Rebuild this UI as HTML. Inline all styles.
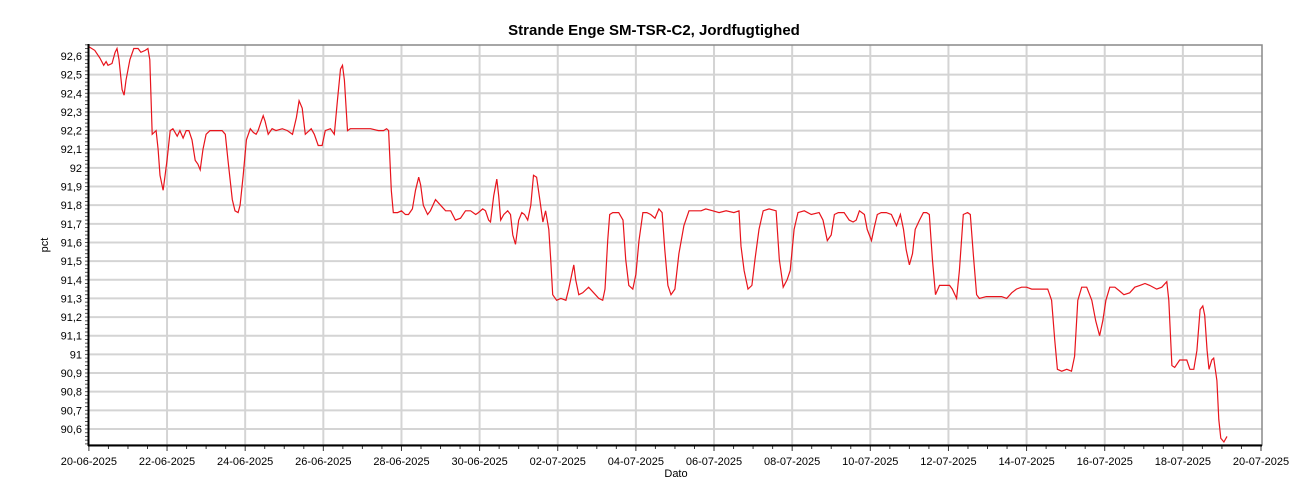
<!DOCTYPE html>
<html><head><meta charset="utf-8"><style>
html,body{margin:0;padding:0;background:#fff;}
svg{display:block;font-family:"Liberation Sans",Arial,sans-serif;}
</style></head><body>
<svg id="chart" width="1300" height="500" xmlns="http://www.w3.org/2000/svg">
<text x="654" y="35" text-anchor="middle" font-size="15" font-weight="bold" fill="#000">Strande Enge SM-TSR-C2, Jordfugtighed</text>
<g id="grid"></g>
<g id="yaxis"></g>
<g id="xaxis"></g>
<path id="series" fill="none" stroke="#e8141c" stroke-width="1.2"></path>
<rect x="88.5" y="45" width="1173.5" height="400" fill="none" stroke="#888" stroke-width="1.5"></rect>
<line x1="88.5" y1="44" x2="88.5" y2="446" stroke="#000" stroke-width="2"></line>
<line x1="88" y1="445.5" x2="1262" y2="445.5" stroke="#000" stroke-width="2"></line>
<text x="48" y="245" font-size="11" text-anchor="middle" transform="rotate(-90 48 245)">pct</text>
<text x="676" y="477" font-size="11" text-anchor="middle">Dato</text>
</svg>
<script>
const yTicks = [90.6,90.7,90.8,90.9,91.0,91.1,91.2,91.3,91.4,91.5,91.6,91.7,91.8,91.9,92.0,92.1,92.2,92.3,92.4,92.5,92.6];
const xTickLabels = ["20-06-2025","22-06-2025","24-06-2025","26-06-2025","28-06-2025","30-06-2025","02-07-2025","04-07-2025","06-07-2025","08-07-2025","10-07-2025","12-07-2025","14-07-2025","16-07-2025","18-07-2025","20-07-2025"];
const days = [0,0.15,0.28,0.38,0.44,0.49,0.59,0.67,0.72,0.77,0.85,0.90,0.95,1.05,1.15,1.26,1.33,1.44,1.51,1.56,1.62,1.67,1.72,1.77,1.82,1.90,1.95,2.00,2.08,2.15,2.26,2.33,2.41,2.49,2.56,2.64,2.72,2.79,2.85,2.92,3.00,3.10,3.18,3.31,3.41,3.49,3.56,3.67,3.74,3.82,3.87,3.95,4.03,4.13,4.21,4.28,4.33,4.41,4.46,4.51,4.59,4.69,4.79,4.95,5.08,5.21,5.31,5.38,5.46,5.54,5.64,5.69,5.77,5.87,5.97,6.05,6.18,6.28,6.36,6.44,6.49,6.54,6.62,6.69,6.85,6.95,7.08,7.21,7.41,7.54,7.62,7.67,7.74,7.79,7.90,8.00,8.10,8.18,8.28,8.36,8.44,8.49,8.56,8.67,8.74,8.87,9.00,9.13,9.26,9.38,9.51,9.64,9.77,9.90,9.97,10.08,10.15,10.23,10.28,10.36,10.44,10.49,10.54,10.62,10.72,10.79,10.85,10.92,11.00,11.08,11.15,11.23,11.31,11.38,11.46,11.54,11.62,11.69,11.77,11.82,11.87,11.97,12.08,12.21,12.28,12.36,12.41,12.46,12.54,12.64,12.79,12.92,13.05,13.15,13.21,13.28,13.33,13.41,13.56,13.67,13.74,13.82,13.92,14.00,14.08,14.18,14.28,14.38,14.49,14.59,14.67,14.74,14.82,14.90,15.00,15.10,15.23,15.36,15.46,15.67,15.79,15.97,16.13,16.31,16.51,16.64,16.69,16.77,16.87,16.97,17.05,17.15,17.26,17.41,17.59,17.67,17.77,17.87,17.95,18.05,18.15,18.31,18.49,18.69,18.79,18.90,19.00,19.08,19.18,19.33,19.46,19.56,19.64,19.72,19.85,19.92,20.03,20.10,20.18,20.28,20.41,20.54,20.67,20.77,20.85,20.92,21.00,21.08,21.15,21.26,21.36,21.44,21.51,21.59,21.67,21.77,21.85,22.03,22.10,22.21,22.28,22.38,22.49,22.56,22.64,22.72,22.79,22.97,23.10,23.23,23.36,23.49,23.62,23.74,23.87,24.00,24.13,24.26,24.38,24.54,24.64,24.72,24.79,24.90,25.03,25.15,25.23,25.31,25.41,25.54,25.67,25.77,25.87,25.95,26.03,26.13,26.26,26.38,26.49,26.64,26.77,26.90,27.03,27.15,27.33,27.46,27.59,27.64,27.72,27.79,27.92,28.10,28.18,28.28,28.36,28.44,28.51,28.56,28.62,28.67,28.74,28.79,28.87,28.92,28.97,29.05,29.13];
const values = [92.65,92.63,92.59,92.55,92.57,92.55,92.56,92.62,92.64,92.58,92.42,92.39,92.47,92.58,92.64,92.64,92.62,92.63,92.64,92.58,92.18,92.19,92.20,92.10,91.96,91.88,91.96,92.04,92.20,92.21,92.17,92.20,92.16,92.20,92.20,92.15,92.04,92.02,91.99,92.10,92.18,92.20,92.20,92.20,92.20,92.18,92.04,91.83,91.77,91.76,91.80,91.96,92.15,92.21,92.19,92.18,92.20,92.25,92.28,92.25,92.18,92.21,92.20,92.21,92.20,92.18,92.27,92.36,92.32,92.18,92.20,92.21,92.18,92.12,92.12,92.20,92.21,92.18,92.36,92.53,92.55,92.47,92.20,92.21,92.21,92.21,92.21,92.21,92.20,92.20,92.21,92.20,91.88,91.76,91.76,91.77,91.75,91.75,91.78,91.88,91.95,91.91,91.80,91.75,91.77,91.83,91.80,91.77,91.77,91.72,91.73,91.77,91.77,91.75,91.76,91.78,91.77,91.72,91.71,91.85,91.94,91.85,91.72,91.75,91.77,91.75,91.64,91.59,91.72,91.76,91.75,91.72,91.80,91.96,91.95,91.83,91.71,91.77,91.67,91.51,91.32,91.29,91.30,91.29,91.35,91.43,91.48,91.40,91.32,91.33,91.36,91.33,91.30,91.29,91.35,91.61,91.75,91.76,91.76,91.72,91.51,91.37,91.35,91.43,91.61,91.76,91.76,91.75,91.73,91.78,91.76,91.56,91.37,91.32,91.35,91.54,91.69,91.77,91.77,91.77,91.78,91.77,91.76,91.77,91.76,91.77,91.58,91.45,91.35,91.37,91.51,91.67,91.77,91.78,91.77,91.51,91.36,91.40,91.45,91.67,91.76,91.77,91.75,91.76,91.72,91.61,91.64,91.75,91.76,91.76,91.72,91.71,91.72,91.77,91.75,91.67,91.61,91.68,91.75,91.76,91.76,91.75,91.69,91.75,91.67,91.56,91.48,91.54,91.67,91.72,91.76,91.76,91.75,91.51,91.32,91.37,91.37,91.37,91.35,91.30,91.45,91.75,91.76,91.75,91.53,91.32,91.30,91.31,91.31,91.31,91.31,91.30,91.33,91.35,91.36,91.36,91.35,91.35,91.35,91.35,91.29,91.08,90.92,90.91,90.92,90.91,90.99,91.29,91.36,91.36,91.29,91.18,91.10,91.18,91.29,91.36,91.36,91.34,91.32,91.33,91.36,91.37,91.38,91.37,91.35,91.36,91.39,91.29,90.94,90.93,90.97,90.97,90.92,90.92,91.02,91.24,91.26,91.21,91.02,90.92,90.97,90.98,90.86,90.65,90.55,90.53,90.56];

const X0 = 88.9, DAYW = 39.07, Y0 = 445, YTOP = 45, YMIN = 90.514, YMAX = 92.659;
const xs = d => X0 + d * DAYW;
const ys = v => Y0 - (v - YMIN) / (YMAX - YMIN) * (Y0 - YTOP);
const NS = "http://www.w3.org/2000/svg";
const grid = document.getElementById('grid');
const yaxis = document.getElementById('yaxis');
const xaxis = document.getElementById('xaxis');
function mk(tag, attrs, parent) {
  const e = document.createElementNS(NS, tag);
  for (const k in attrs) e.setAttribute(k, attrs[k]);
  parent.appendChild(e);
  return e;
}
yTicks.forEach(v => {
  const y = ys(v);
  const gl = mk('line', {x1: 88, x2: 1262, y1: y, y2: y, stroke: '#d4d4d4', 'stroke-width': 2}, grid);
  
  
  const t = mk('text', {x: 82, y: y + 4, 'text-anchor': 'end', 'font-size': 11, fill: '#000'}, yaxis);
  t.textContent = (Math.round(v * 10) % 10 === 0 ? String(Math.round(v)) : v.toFixed(1)).replace('.', ',');
  
  
});
for (let v = 90.52; v <= 92.66; v += 0.02) {
  const y = ys(v);
  const mt = mk('line', {x1: 85, x2: 88, y1: y, y2: y, stroke: '#555', 'stroke-width': 1}, yaxis);
  
  
}
xTickLabels.forEach((lab, i) => {
  const x = xs(i * 2);
  if (i > 0 && i < xTickLabels.length - 1) {
    const gl = mk('line', {x1: x, x2: x, y1: 45, y2: 445, stroke: '#d4d4d4', 'stroke-width': 2}, grid);
    
    
  }
  const t = mk('text', {x: x, y: 465, 'text-anchor': 'middle', 'font-size': 11, fill: '#000'}, xaxis);
  t.textContent = lab;
  
  
});
for (let h = 0; h <= 60; h++) {
  const x = xs(h / 2);
  const mt = mk('line', {x1: x, x2: x, y1: 446, y2: h % 4 === 0 ? 451 : 449, stroke: '#333', 'stroke-width': 1}, xaxis);
  
  
}
let d = '';
days.forEach((dd, i) => { d += (i ? 'L' : 'M') + xs(dd).toFixed(1) + ',' + ys(values[i]).toFixed(1); });
document.getElementById('series').setAttribute('d', d);
</script>
</body></html>
